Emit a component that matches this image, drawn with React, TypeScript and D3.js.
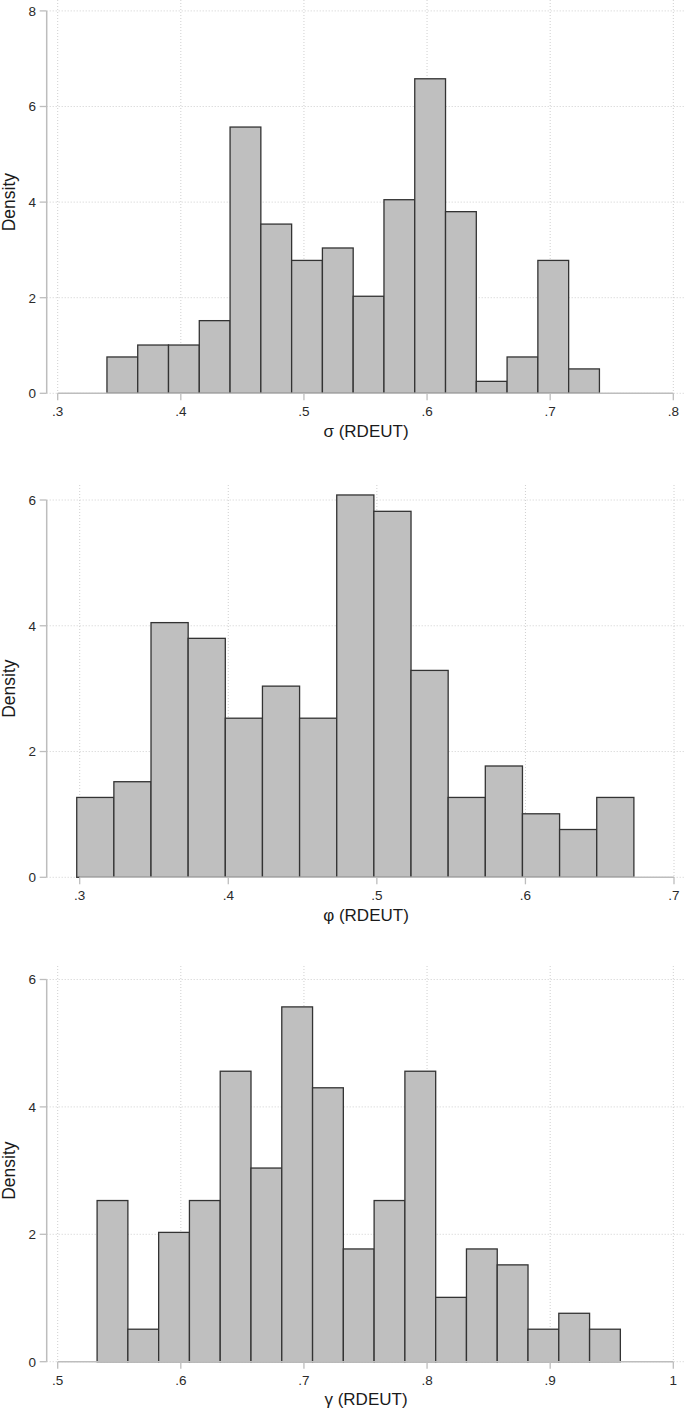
import React, { useRef, useEffect } from "react";
import * as d3 from "d3";

// bin width shared by all three histograms
const binWidth = 0.025;

// sigma (RDEUT)
const sigmaBinStart = 0.34;
const sigmaDensity = [0.76, 1.01, 1.01, 1.52, 5.57, 3.54, 2.78, 3.04, 2.03, 4.05, 6.58, 3.8, 0.25, 0.76, 2.78, 0.51];
const sigmaXTicks = [0.3, 0.4, 0.5, 0.6, 0.7, 0.8];
const sigmaXLabels = [".3", ".4", ".5", ".6", ".7", ".8"];
const sigmaYTicks = [0, 2, 4, 6, 8];

// phi (RDEUT)
const phiBinStart = 0.298;
const phiDensity = [1.27, 1.52, 4.05, 3.8, 2.53, 3.04, 2.53, 6.08, 5.82, 3.29, 1.27, 1.77, 1.01, 0.76, 1.27];
const phiXTicks = [0.3, 0.4, 0.5, 0.6, 0.7];
const phiXLabels = [".3", ".4", ".5", ".6", ".7"];
const phiYTicks = [0, 2, 4, 6];

// gamma (RDEUT)
const gammaBinStart = 0.532;
const gammaDensity = [2.53, 0.51, 2.03, 2.53, 4.56, 3.04, 5.57, 4.3, 1.77, 2.53, 4.56, 1.01, 1.77, 1.52, 0.51, 0.76, 0.51];
const gammaXTicks = [0.5, 0.6, 0.7, 0.8, 0.9, 1];
const gammaXLabels = [".5", ".6", ".7", ".8", ".9", "1"];
const gammaYTicks = [0, 2, 4, 6];

const yLabel = "Density";
const xTitles = ["σ (RDEUT)", "φ (RDEUT)", "γ (RDEUT)"];

const W = 685;
const H = 1412;
const font = "'Liberation Sans', Arial, sans-serif";

type Panel = {
  start: number;
  density: number[];
  xTicks: number[];
  xLabels: string[];
  yTicks: number[];
  title: string;
  xRange: [number, number];
  yRange: [number, number];
  top: number;
};

const panels: Panel[] = [
  { start: sigmaBinStart, density: sigmaDensity, xTicks: sigmaXTicks, xLabels: sigmaXLabels, yTicks: sigmaYTicks, title: xTitles[0], xRange: [57.7, 673.3], yRange: [393.3, 10.9], top: 0 },
  { start: phiBinStart, density: phiDensity, xTicks: phiXTicks, xLabels: phiXLabels, yTicks: phiYTicks, title: xTitles[1], xRange: [79.7, 674], yRange: [877.3, 500], top: 485 },
  { start: gammaBinStart, density: gammaDensity, xTicks: gammaXTicks, xLabels: gammaXLabels, yTicks: gammaYTicks, title: xTitles[2], xRange: [57.7, 673.3], yRange: [1361.7, 979.5], top: 966 },
];

const App = () => {
  const svgRef = useRef<SVGSVGElement>(null);

  useEffect(() => {
    const svg = d3.select(svgRef.current);
    svg.selectAll("*").remove();

    const axisX = 46.7;
    const gridColor = "#cfcfcf";
    const axisColor = "#bdbdbd";

    panels.forEach(p => {
      const x = d3.scaleLinear()
        .domain([p.xTicks[0], p.xTicks[p.xTicks.length - 1]])
        .range(p.xRange);
      const y = d3.scaleLinear()
        .domain([0, p.yTicks[p.yTicks.length - 1]])
        .range(p.yRange);
      const y0 = y(0);
      const g = svg.append("g");

      // horizontal grid
      g.selectAll(".hgrid")
        .data(p.yTicks)
        .enter()
        .append("line")
        .attr("x1", axisX)
        .attr("x2", W)
        .attr("y1", d => y(d))
        .attr("y2", d => y(d))
        .attr("stroke", gridColor)
        .attr("stroke-width", 1)
        .attr("stroke-dasharray", "1,2");

      // vertical grid
      g.selectAll(".vgrid")
        .data(p.xTicks)
        .enter()
        .append("line")
        .attr("x1", d => x(d))
        .attr("x2", d => x(d))
        .attr("y1", p.top)
        .attr("y2", y0)
        .attr("stroke", gridColor)
        .attr("stroke-width", 1)
        .attr("stroke-dasharray", "1,2");

      // bars
      g.selectAll("rect")
        .data(p.density)
        .enter()
        .append("rect")
        .attr("x", (d, i) => x(p.start + i * binWidth))
        .attr("width", (d, i) => x(p.start + (i + 1) * binWidth) - x(p.start + i * binWidth))
        .attr("y", d => y(d))
        .attr("height", d => y0 - y(d))
        .attr("fill", "#bfbfbf")
        .attr("stroke", "#333333")
        .attr("stroke-width", 1.3);

      // y axis
      g.append("line")
        .attr("x1", axisX)
        .attr("x2", axisX)
        .attr("y1", y(p.yTicks[p.yTicks.length - 1]))
        .attr("y2", y0)
        .attr("stroke", axisColor)
        .attr("stroke-width", 1.5);

      g.selectAll(".ytick")
        .data(p.yTicks)
        .enter()
        .append("line")
        .attr("x1", axisX - 7)
        .attr("x2", axisX)
        .attr("y1", d => y(d))
        .attr("y2", d => y(d))
        .attr("stroke", axisColor)
        .attr("stroke-width", 1.3);

      g.selectAll(".ylab")
        .data(p.yTicks)
        .enter()
        .append("text")
        .attr("x", 36)
        .attr("y", d => y(d))
        .attr("dy", "0.36em")
        .attr("text-anchor", "end")
        .style("font-family", font)
        .style("font-size", "13.5px")
        .attr("fill", "#2a2a2a")
        .text(d => String(d));

      // x axis
      g.append("line")
        .attr("x1", p.xRange[0])
        .attr("x2", p.xRange[1])
        .attr("y1", y0)
        .attr("y2", y0)
        .attr("stroke", axisColor)
        .attr("stroke-width", 1.5);

      g.selectAll(".xtick")
        .data(p.xTicks)
        .enter()
        .append("line")
        .attr("x1", d => x(d))
        .attr("x2", d => x(d))
        .attr("y1", y0)
        .attr("y2", y0 + 7)
        .attr("stroke", axisColor)
        .attr("stroke-width", 1.3);

      g.selectAll(".xlab")
        .data(p.xTicks)
        .enter()
        .append("text")
        .attr("x", d => x(d))
        .attr("y", y0 + 23)
        .attr("text-anchor", "middle")
        .style("font-family", font)
        .style("font-size", "13.5px")
        .attr("fill", "#2a2a2a")
        .text((d, i) => p.xLabels[i]);

      // titles
      g.append("text")
        .attr("x", 366)
        .attr("y", y0 + 43.4)
        .attr("text-anchor", "middle")
        .style("font-family", font)
        .style("font-size", "17px")
        .attr("fill", "#1a1a1a")
        .text(p.title);

      const yMid = (p.yRange[0] + p.yRange[1]) / 2;
      g.append("text")
        .attr("transform", `translate(15,${yMid}) rotate(-90)`)
        .attr("text-anchor", "middle")
        .style("font-family", font)
        .style("font-size", "17.5px")
        .attr("fill", "#1a1a1a")
        .text(yLabel);
    });
  }, []);

  return (
    <svg
      ref={svgRef}
      width={W}
      height={H}
      style={{ position: "absolute", left: 0, top: 0, background: "#fff" }}
    ></svg>
  );
};

export default App;
